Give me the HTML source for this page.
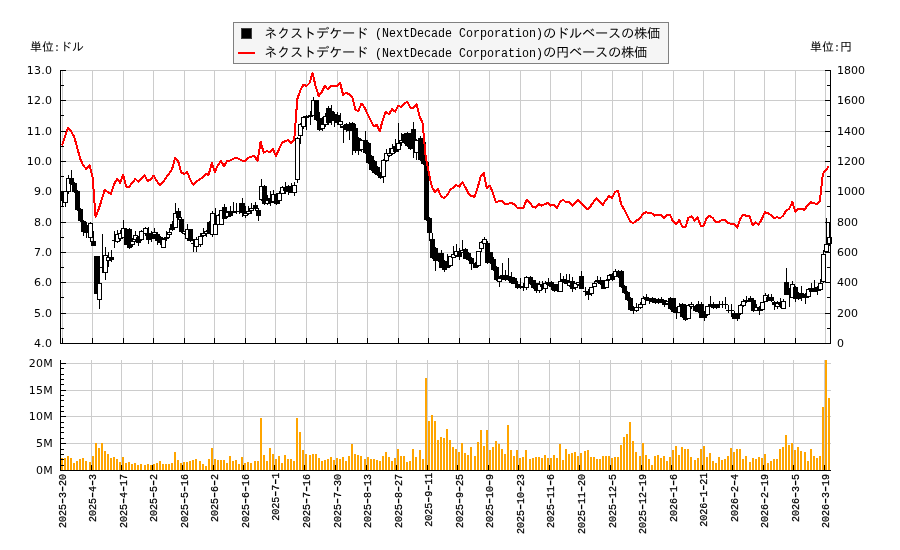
<!DOCTYPE html>
<html lang="ja"><head><meta charset="utf-8"><title>ネクストデケード (NextDecade Corporation)</title>
<style>html,body{margin:0;padding:0;background:#fff}body{width:900px;height:550px;overflow:hidden}svg{display:block}.jp{font-family:"Liberation Mono","IPAGothic",monospace}.tk{font-family:"DejaVu Sans","Liberation Sans",sans-serif;font-size:11px;fill:#000;letter-spacing:0.25px}</style></head><body>
<svg width="900" height="550" viewBox="0 0 900 550">
<rect x="0" y="0" width="900" height="550" fill="#fff"/>
<g shape-rendering="crispEdges">
<path d="M61 70.5H830M61 100.5H830M61 131.5H830M61 161.5H830M61 191.5H830M61 222.5H830M61 252.5H830M61 282.5H830M61 313.5H830M62.5 70V343M92.5 70V343M123.5 70V343M153.5 70V343M184.5 70V343M214.5 70V343M245.5 70V343M275.5 70V343M306.5 70V343M337.5 70V343M367.5 70V343M398.5 70V343M428.5 70V343M459.5 70V343M489.5 70V343M520.5 70V343M550.5 70V343M581.5 70V343M612.5 70V343M642.5 70V343M673.5 70V343M703.5 70V343M734.5 70V343M764.5 70V343M795.5 70V343M825.5 70V343" stroke="#cccccc" stroke-width="1" fill="none"/>
<path d="M61 443.5H831M61 416.5H831M61 390.5H831M61 363.5H831M91.5 360V470M121.5 360V470M152.5 360V470M182.5 360V470M213.5 360V470M243.5 360V470M274.5 360V470M304.5 360V470M335.5 360V470M366.5 360V470M396.5 360V470M427.5 360V470M457.5 360V470M488.5 360V470M518.5 360V470M549.5 360V470M579.5 360V470M610.5 360V470M641.5 360V470M671.5 360V470M702.5 360V470M732.5 360V470M763.5 360V470M793.5 360V470M824.5 360V470" stroke="#cccccc" stroke-width="1" fill="none"/>
</g>
<g fill="#ffa500" shape-rendering="crispEdges">
<path d="M61 458h2V470h-2zM64 458h2V470h-2zM67 456h2V470h-2zM70 458h2V470h-2zM73 463h2V470h-2zM76 461h2V470h-2zM79 459h2V470h-2zM82 458h2V470h-2zM85 461h2V470h-2zM89 462h2V470h-2zM92 456h2V470h-2zM95 443h2V470h-2zM98 448h2V470h-2zM101 443h2V470h-2zM104 451h2V470h-2zM107 454h2V470h-2zM110 458h2V470h-2zM113 457h2V470h-2zM116 459h2V470h-2zM119 462h2V470h-2zM122 457h2V470h-2zM125 463h2V470h-2zM128 462h2V470h-2zM131 464h2V470h-2zM134 463h2V470h-2zM137 465h2V470h-2zM140 464h2V470h-2zM144 465h2V470h-2zM147 464h2V470h-2zM150 465h2V470h-2zM153 464h2V470h-2zM156 463h2V470h-2zM159 461h2V470h-2zM162 464h2V470h-2zM165 464h2V470h-2zM168 464h2V470h-2zM171 463h2V470h-2zM174 452h2V470h-2zM177 460h2V470h-2zM180 463h2V470h-2zM183 462h2V470h-2zM186 462h2V470h-2zM189 461h2V470h-2zM192 460h2V470h-2zM195 459h2V470h-2zM199 461h2V470h-2zM202 464h2V470h-2zM205 466h2V470h-2zM208 459h2V470h-2zM211 448h2V470h-2zM214 459h2V470h-2zM217 460h2V470h-2zM220 460h2V470h-2zM223 460h2V470h-2zM226 463h2V470h-2zM229 456h2V470h-2zM232 461h2V470h-2zM235 460h2V470h-2zM238 464h2V470h-2zM241 457h2V470h-2zM244 463h2V470h-2zM247 462h2V470h-2zM250 463h2V470h-2zM254 461h2V470h-2zM257 461h2V470h-2zM260 418h2V470h-2zM263 455h2V470h-2zM266 461h2V470h-2zM269 448h2V470h-2zM272 454h2V470h-2zM275 459h2V470h-2zM278 456h2V470h-2zM281 463h2V470h-2zM284 455h2V470h-2zM287 459h2V470h-2zM290 459h2V470h-2zM293 461h2V470h-2zM296 418h2V470h-2zM299 432h2V470h-2zM302 450h2V470h-2zM305 454h2V470h-2zM309 455h2V470h-2zM312 454h2V470h-2zM315 454h2V470h-2zM318 458h2V470h-2zM321 461h2V470h-2zM324 460h2V470h-2zM327 459h2V470h-2zM330 457h2V470h-2zM333 460h2V470h-2zM336 458h2V470h-2zM339 459h2V470h-2zM342 457h2V470h-2zM345 461h2V470h-2zM348 456h2V470h-2zM351 444h2V470h-2zM354 454h2V470h-2zM357 455h2V470h-2zM360 456h2V470h-2zM364 459h2V470h-2zM367 457h2V470h-2zM370 459h2V470h-2zM373 459h2V470h-2zM376 460h2V470h-2zM379 461h2V470h-2zM382 456h2V470h-2zM385 452h2V470h-2zM388 457h2V470h-2zM391 461h2V470h-2zM394 458h2V470h-2zM397 449h2V470h-2zM400 456h2V470h-2zM403 456h2V470h-2zM406 462h2V470h-2zM409 461h2V470h-2zM412 449h2V470h-2zM415 457h2V470h-2zM419 450h2V470h-2zM422 459h2V470h-2zM425 378h2V470h-2zM428 421h2V470h-2zM431 415h2V470h-2zM434 421h2V470h-2zM437 440h2V470h-2zM440 437h2V470h-2zM443 438h2V470h-2zM446 429h2V470h-2zM449 440h2V470h-2zM452 447h2V470h-2zM455 449h2V470h-2zM458 452h2V470h-2zM461 443h2V470h-2zM464 453h2V470h-2zM467 455h2V470h-2zM470 447h2V470h-2zM474 456h2V470h-2zM477 442h2V470h-2zM480 430h2V470h-2zM483 446h2V470h-2zM486 430h2V470h-2zM489 450h2V470h-2zM492 447h2V470h-2zM495 441h2V470h-2zM498 444h2V470h-2zM501 449h2V470h-2zM504 454h2V470h-2zM507 425h2V470h-2zM510 450h2V470h-2zM513 456h2V470h-2zM516 450h2V470h-2zM519 458h2V470h-2zM522 457h2V470h-2zM525 450h2V470h-2zM529 459h2V470h-2zM532 458h2V470h-2zM535 457h2V470h-2zM538 457h2V470h-2zM541 458h2V470h-2zM544 455h2V470h-2zM547 458h2V470h-2zM550 458h2V470h-2zM553 455h2V470h-2zM556 458h2V470h-2zM559 444h2V470h-2zM562 460h2V470h-2zM565 449h2V470h-2zM568 454h2V470h-2zM571 453h2V470h-2zM574 452h2V470h-2zM577 456h2V470h-2zM580 453h2V470h-2zM584 451h2V470h-2zM587 450h2V470h-2zM590 457h2V470h-2zM593 457h2V470h-2zM596 459h2V470h-2zM599 459h2V470h-2zM602 456h2V470h-2zM605 456h2V470h-2zM608 456h2V470h-2zM611 458h2V470h-2zM614 457h2V470h-2zM617 457h2V470h-2zM620 445h2V470h-2zM623 437h2V470h-2zM626 434h2V470h-2zM629 422h2V470h-2zM632 441h2V470h-2zM635 452h2V470h-2zM639 456h2V470h-2zM642 443h2V470h-2zM645 455h2V470h-2zM648 459h2V470h-2zM651 465h2V470h-2zM654 456h2V470h-2zM657 455h2V470h-2zM660 458h2V470h-2zM663 456h2V470h-2zM666 461h2V470h-2zM669 457h2V470h-2zM672 450h2V470h-2zM675 446h2V470h-2zM678 455h2V470h-2zM681 447h2V470h-2zM684 449h2V470h-2zM687 449h2V470h-2zM690 457h2V470h-2zM694 460h2V470h-2zM697 458h2V470h-2zM700 449h2V470h-2zM703 446h2V470h-2zM706 457h2V470h-2zM709 453h2V470h-2zM712 461h2V470h-2zM715 463h2V470h-2zM718 457h2V470h-2zM721 460h2V470h-2zM724 459h2V470h-2zM727 456h2V470h-2zM730 448h2V470h-2zM733 452h2V470h-2zM736 449h2V470h-2zM739 449h2V470h-2zM742 459h2V470h-2zM745 456h2V470h-2zM749 462h2V470h-2zM752 458h2V470h-2zM755 459h2V470h-2zM758 457h2V470h-2zM761 458h2V470h-2zM764 454h2V470h-2zM767 463h2V470h-2zM770 461h2V470h-2zM773 459h2V470h-2zM776 459h2V470h-2zM779 449h2V470h-2zM782 447h2V470h-2zM785 435h2V470h-2zM788 445h2V470h-2zM791 443h2V470h-2zM794 450h2V470h-2zM797 447h2V470h-2zM800 451h2V470h-2zM804 452h2V470h-2zM807 461h2V470h-2zM810 449h2V470h-2zM813 456h2V470h-2zM816 458h2V470h-2zM819 456h2V470h-2zM822 407h2V470h-2zM825 360h2V470h-2zM828 398h2V470h-2z"/>
</g>
<g shape-rendering="crispEdges" stroke="#000" stroke-width="1">
<path d="M62.5 191V207"/><rect x="60.5" y="191.5" width="4" height="9" fill="#000"/>
<path d="M65.5 191V207"/><rect x="63.5" y="191.5" width="4" height="11" fill="#fff"/>
<path d="M68.5 175V194"/><rect x="66.5" y="178.5" width="4" height="13" fill="#fff"/>
<path d="M71.5 170V185"/><rect x="69.5" y="178.5" width="4" height="5" fill="#000"/>
<path d="M74.5 182V193"/><rect x="72.5" y="183.5" width="4" height="8" fill="#000"/>
<path d="M77.5 190V211"/><rect x="75.5" y="191.5" width="4" height="18" fill="#000"/>
<path d="M80.5 208V222"/><rect x="78.5" y="209.5" width="4" height="11" fill="#000"/>
<path d="M83.5 220V236"/><rect x="81.5" y="221.5" width="4" height="10" fill="#000"/>
<path d="M86.5 222V238"/><rect x="84.5" y="225.5" width="4" height="7" fill="#000"/>
<path d="M90.5 222V242"/><rect x="88.5" y="223.5" width="4" height="14" fill="#fff"/>
<path d="M93.5 231V246"/><rect x="91.5" y="241.5" width="4" height="4" fill="#000"/>
<rect x="94.5" y="256.5" width="4" height="37" fill="#000"/>
<path d="M99.5 256V309"/><rect x="97.5" y="283.5" width="4" height="16" fill="#fff"/>
<path d="M102.5 234V273"/><path d="M100 267.5h5"/>
<path d="M105.5 247V280"/><rect x="103.5" y="255.5" width="4" height="17" fill="#fff"/>
<path d="M108.5 252V267"/><rect x="106.5" y="257.5" width="4" height="3" fill="#fff"/>
<path d="M111.5 250V262"/><rect x="109.5" y="257.5" width="4" height="2" fill="#000"/>
<path d="M114.5 231V248"/><path d="M112 240.5h5"/>
<path d="M117.5 230V243"/><rect x="115.5" y="234.5" width="4" height="7" fill="#fff"/>
<path d="M120.5 230V241"/><rect x="118.5" y="233.5" width="4" height="5" fill="#fff"/>
<path d="M123.5 220V238"/><rect x="121.5" y="228.5" width="4" height="9" fill="#fff"/>
<path d="M126.5 228V245"/><rect x="124.5" y="229.5" width="4" height="15" fill="#000"/>
<path d="M129.5 228V249"/><rect x="127.5" y="229.5" width="4" height="18" fill="#000"/>
<path d="M132.5 238V247"/><rect x="130.5" y="241.5" width="4" height="3" fill="#fff"/>
<path d="M135.5 231V242"/><rect x="133.5" y="235.5" width="4" height="4" fill="#fff"/>
<path d="M138.5 236V246"/><rect x="136.5" y="237.5" width="4" height="5" fill="#000"/>
<path d="M141.5 230V241"/><rect x="139.5" y="231.5" width="4" height="8" fill="#fff"/>
<path d="M145.5 227V236"/><rect x="143.5" y="228.5" width="4" height="5" fill="#fff"/>
<path d="M148.5 227V244"/><rect x="146.5" y="233.5" width="4" height="6" fill="#000"/>
<path d="M151.5 231V242"/><rect x="149.5" y="233.5" width="4" height="5" fill="#000"/>
<path d="M154.5 228V239"/><rect x="152.5" y="232.5" width="4" height="2" fill="#fff"/>
<path d="M157.5 232V245"/><rect x="155.5" y="234.5" width="4" height="6" fill="#000"/>
<path d="M160.5 236V245"/><rect x="158.5" y="237.5" width="4" height="5" fill="#000"/>
<path d="M163.5 238V248"/><rect x="161.5" y="239.5" width="4" height="8" fill="#fff"/>
<path d="M166.5 231V241"/><rect x="164.5" y="237.5" width="4" height="1" fill="#fff"/>
<path d="M169.5 228V238"/><rect x="167.5" y="232.5" width="4" height="2" fill="#fff"/>
<path d="M172.5 221V231"/><rect x="170.5" y="224.5" width="4" height="5" fill="#000"/>
<path d="M175.5 203V228"/><rect x="173.5" y="213.5" width="4" height="14" fill="#fff"/>
<path d="M178.5 208V220"/><rect x="176.5" y="211.5" width="4" height="6" fill="#000"/>
<path d="M181.5 217V233"/><rect x="179.5" y="219.5" width="4" height="12" fill="#000"/>
<path d="M184.5 231V235"/><rect x="182.5" y="231.5" width="4" height="2" fill="#fff"/>
<path d="M187.5 224V241"/><rect x="185.5" y="229.5" width="4" height="9" fill="#fff"/>
<path d="M190.5 229V242"/><rect x="188.5" y="229.5" width="4" height="11" fill="#000"/>
<path d="M193.5 239V252"/><path d="M191 243.5h5"/>
<path d="M196.5 237V252"/><rect x="194.5" y="239.5" width="4" height="7" fill="#fff"/>
<path d="M200.5 233V247"/><rect x="198.5" y="236.5" width="4" height="8" fill="#fff"/>
<path d="M203.5 228V237"/><rect x="201.5" y="233.5" width="4" height="2" fill="#fff"/>
<path d="M206.5 230V237"/><rect x="204.5" y="231.5" width="4" height="2" fill="#fff"/>
<path d="M209.5 221V234"/><rect x="207.5" y="222.5" width="4" height="11" fill="#000"/>
<path d="M212.5 211V237"/><rect x="210.5" y="213.5" width="4" height="21" fill="#fff"/>
<path d="M215.5 208V235"/><rect x="213.5" y="224.5" width="4" height="10" fill="#fff"/>
<path d="M218.5 214V225"/><rect x="216.5" y="215.5" width="4" height="9" fill="#fff"/>
<rect x="219.5" y="210.5" width="4" height="14" fill="#fff"/>
<path d="M224.5 204V219"/><rect x="222.5" y="207.5" width="4" height="11" fill="#000"/>
<path d="M227.5 211V218"/><rect x="225.5" y="212.5" width="4" height="4" fill="#fff"/>
<path d="M230.5 206V217"/><rect x="228.5" y="211.5" width="4" height="4" fill="#000"/>
<path d="M233.5 202V213"/><rect x="231.5" y="211.5" width="4" height="1" fill="#fff"/>
<path d="M236.5 203V214"/><path d="M234 211.5h5"/>
<path d="M239.5 203V214"/><path d="M237 211.5h5"/>
<path d="M242.5 198V217"/><rect x="240.5" y="203.5" width="4" height="9" fill="#000"/>
<path d="M245.5 206V218"/><rect x="243.5" y="213.5" width="4" height="2" fill="#fff"/>
<path d="M248.5 206V215"/><rect x="246.5" y="211.5" width="4" height="2" fill="#fff"/>
<path d="M251.5 203V214"/><rect x="249.5" y="208.5" width="4" height="2" fill="#fff"/>
<path d="M255.5 202V211"/><rect x="253.5" y="205.5" width="4" height="3" fill="#000"/>
<path d="M258.5 208V221"/><rect x="256.5" y="210.5" width="4" height="5" fill="#000"/>
<path d="M261.5 179V201"/><rect x="259.5" y="186.5" width="4" height="13" fill="#fff"/>
<path d="M264.5 185V205"/><rect x="262.5" y="186.5" width="4" height="17" fill="#000"/>
<path d="M267.5 195V205"/><rect x="265.5" y="200.5" width="4" height="3" fill="#fff"/>
<path d="M270.5 191V206"/><rect x="268.5" y="198.5" width="4" height="4" fill="#000"/>
<path d="M273.5 190V203"/><rect x="271.5" y="194.5" width="4" height="7" fill="#fff"/>
<path d="M276.5 193V205"/><rect x="274.5" y="194.5" width="4" height="9" fill="#000"/>
<path d="M279.5 191V204"/><rect x="277.5" y="193.5" width="4" height="7" fill="#fff"/>
<path d="M282.5 186V194"/><rect x="280.5" y="187.5" width="4" height="6" fill="#fff"/>
<path d="M285.5 182V194"/><rect x="283.5" y="187.5" width="4" height="3" fill="#000"/>
<path d="M288.5 185V195"/><rect x="286.5" y="186.5" width="4" height="5" fill="#000"/>
<path d="M291.5 183V193"/><rect x="289.5" y="186.5" width="4" height="6" fill="#000"/>
<path d="M294.5 182V196"/><rect x="292.5" y="185.5" width="4" height="7" fill="#fff"/>
<path d="M297.5 137V183"/><rect x="295.5" y="138.5" width="4" height="41" fill="#fff"/>
<path d="M300.5 123V144"/><rect x="298.5" y="124.5" width="4" height="11" fill="#fff"/>
<path d="M303.5 116V129"/><rect x="301.5" y="117.5" width="4" height="9" fill="#fff"/>
<path d="M306.5 115V130"/><rect x="304.5" y="116.5" width="4" height="1" fill="#000"/>
<path d="M310.5 111V125"/><rect x="308.5" y="115.5" width="4" height="1" fill="#fff"/>
<path d="M313.5 97V116"/><rect x="311.5" y="100.5" width="4" height="15" fill="#fff"/>
<path d="M316.5 100V121"/><rect x="314.5" y="100.5" width="4" height="19" fill="#000"/>
<path d="M319.5 112V131"/><rect x="317.5" y="118.5" width="4" height="11" fill="#000"/>
<path d="M322.5 117V131"/><rect x="320.5" y="124.5" width="4" height="4" fill="#fff"/>
<path d="M325.5 113V127"/><rect x="323.5" y="116.5" width="4" height="8" fill="#fff"/>
<path d="M328.5 106V125"/><rect x="326.5" y="108.5" width="4" height="14" fill="#000"/>
<path d="M331.5 105V125"/><rect x="329.5" y="111.5" width="4" height="9" fill="#000"/>
<path d="M334.5 112V127"/><rect x="332.5" y="114.5" width="4" height="6" fill="#000"/>
<path d="M337.5 112V125"/><rect x="335.5" y="115.5" width="4" height="7" fill="#000"/>
<path d="M340.5 113V128"/><rect x="338.5" y="121.5" width="4" height="3" fill="#fff"/>
<path d="M343.5 125V143"/><rect x="341.5" y="126.5" width="4" height="1" fill="#fff"/>
<path d="M346.5 123V132"/><rect x="344.5" y="124.5" width="4" height="5" fill="#000"/>
<path d="M349.5 122V140"/><rect x="347.5" y="124.5" width="4" height="6" fill="#000"/>
<path d="M352.5 122V155"/><rect x="350.5" y="123.5" width="4" height="7" fill="#000"/>
<path d="M355.5 124V153"/><rect x="353.5" y="128.5" width="4" height="22" fill="#000"/>
<path d="M358.5 137V155"/><rect x="356.5" y="138.5" width="4" height="12" fill="#000"/>
<path d="M361.5 139V152"/><rect x="359.5" y="140.5" width="4" height="9" fill="#fff"/>
<path d="M365.5 131V154"/><rect x="363.5" y="140.5" width="4" height="12" fill="#000"/>
<path d="M368.5 142V164"/><rect x="366.5" y="143.5" width="4" height="19" fill="#000"/>
<path d="M371.5 155V171"/><rect x="369.5" y="156.5" width="4" height="13" fill="#000"/>
<path d="M374.5 160V174"/><rect x="372.5" y="161.5" width="4" height="11" fill="#000"/>
<path d="M377.5 166V176"/><rect x="375.5" y="167.5" width="4" height="7" fill="#000"/>
<path d="M380.5 172V179"/><rect x="378.5" y="173.5" width="4" height="4" fill="#000"/>
<path d="M383.5 159V183"/><rect x="381.5" y="160.5" width="4" height="16" fill="#fff"/>
<path d="M386.5 149V162"/><rect x="384.5" y="153.5" width="4" height="7" fill="#fff"/>
<path d="M389.5 148V157"/><rect x="387.5" y="153.5" width="4" height="2" fill="#fff"/>
<path d="M392.5 144V155"/><rect x="390.5" y="148.5" width="4" height="5" fill="#fff"/>
<path d="M395.5 139V153"/><rect x="393.5" y="146.5" width="4" height="5" fill="#000"/>
<path d="M398.5 123V152"/><rect x="396.5" y="143.5" width="4" height="6" fill="#fff"/>
<path d="M401.5 133V146"/><rect x="399.5" y="140.5" width="4" height="2" fill="#fff"/>
<path d="M404.5 133V144"/><rect x="402.5" y="134.5" width="4" height="8" fill="#000"/>
<path d="M407.5 132V147"/><rect x="405.5" y="133.5" width="4" height="12" fill="#000"/>
<path d="M410.5 133V150"/><rect x="408.5" y="134.5" width="4" height="14" fill="#000"/>
<path d="M413.5 122V158"/><rect x="411.5" y="129.5" width="4" height="18" fill="#000"/>
<path d="M416.5 139V160"/><rect x="414.5" y="140.5" width="4" height="12" fill="#fff"/>
<path d="M420.5 136V161"/><rect x="418.5" y="138.5" width="4" height="21" fill="#000"/>
<path d="M423.5 141V165"/><rect x="421.5" y="142.5" width="4" height="21" fill="#000"/>
<path d="M426.5 160V221"/><rect x="424.5" y="162.5" width="4" height="57" fill="#000"/>
<path d="M429.5 217V241"/><rect x="427.5" y="218.5" width="4" height="14" fill="#000"/>
<path d="M432.5 233V259"/><rect x="430.5" y="239.5" width="4" height="18" fill="#000"/>
<path d="M435.5 247V271"/><rect x="433.5" y="248.5" width="4" height="12" fill="#000"/>
<path d="M438.5 253V262"/><rect x="436.5" y="254.5" width="4" height="6" fill="#000"/>
<path d="M441.5 250V268"/><rect x="439.5" y="253.5" width="4" height="14" fill="#000"/>
<path d="M444.5 260V272"/><rect x="442.5" y="261.5" width="4" height="8" fill="#000"/>
<path d="M447.5 254V268"/><rect x="445.5" y="261.5" width="4" height="6" fill="#000"/>
<path d="M450.5 256V267"/><rect x="448.5" y="256.5" width="4" height="9" fill="#fff"/>
<path d="M453.5 246V258"/><rect x="451.5" y="254.5" width="4" height="3" fill="#fff"/>
<path d="M456.5 244V257"/><rect x="454.5" y="251.5" width="4" height="4" fill="#fff"/>
<path d="M459.5 248V260"/><rect x="457.5" y="251.5" width="4" height="5" fill="#000"/>
<path d="M462.5 240V253"/><rect x="460.5" y="250.5" width="4" height="2" fill="#fff"/>
<path d="M465.5 248V259"/><rect x="463.5" y="249.5" width="4" height="9" fill="#000"/>
<path d="M468.5 252V261"/><rect x="466.5" y="253.5" width="4" height="6" fill="#000"/>
<path d="M471.5 257V270"/><rect x="469.5" y="258.5" width="4" height="5" fill="#000"/>
<path d="M475.5 262V268"/><rect x="473.5" y="263.5" width="4" height="4" fill="#000"/>
<path d="M478.5 251V267"/><rect x="476.5" y="251.5" width="4" height="14" fill="#fff"/>
<path d="M481.5 241V252"/><rect x="479.5" y="242.5" width="4" height="6" fill="#fff"/>
<path d="M484.5 237V244"/><rect x="482.5" y="239.5" width="4" height="4" fill="#fff"/>
<path d="M487.5 241V264"/><rect x="485.5" y="243.5" width="4" height="19" fill="#000"/>
<path d="M490.5 252V264"/><rect x="488.5" y="252.5" width="4" height="9" fill="#000"/>
<path d="M493.5 257V271"/><rect x="491.5" y="259.5" width="4" height="10" fill="#000"/>
<path d="M496.5 266V281"/><rect x="494.5" y="267.5" width="4" height="12" fill="#000"/>
<path d="M499.5 276V287"/><rect x="497.5" y="278.5" width="4" height="3" fill="#fff"/>
<path d="M502.5 263V280"/><rect x="500.5" y="275.5" width="4" height="3" fill="#000"/>
<path d="M505.5 270V281"/><rect x="503.5" y="275.5" width="4" height="4" fill="#000"/>
<path d="M508.5 258V281"/><rect x="506.5" y="276.5" width="4" height="3" fill="#000"/>
<path d="M511.5 272V284"/><rect x="509.5" y="277.5" width="4" height="5" fill="#000"/>
<path d="M514.5 277V284"/><rect x="512.5" y="278.5" width="4" height="5" fill="#000"/>
<path d="M517.5 281V289"/><rect x="515.5" y="284.5" width="4" height="3" fill="#000"/>
<path d="M520.5 278V289"/><path d="M518 286.5h5"/>
<path d="M523.5 283V291"/><rect x="521.5" y="286.5" width="4" height="1" fill="#000"/>
<path d="M526.5 276V290"/><rect x="524.5" y="277.5" width="4" height="10" fill="#fff"/>
<path d="M530.5 276V285"/><rect x="528.5" y="277.5" width="4" height="6" fill="#000"/>
<path d="M533.5 280V289"/><rect x="531.5" y="280.5" width="4" height="7" fill="#000"/>
<path d="M536.5 283V293"/><rect x="534.5" y="283.5" width="4" height="7" fill="#000"/>
<path d="M539.5 281V293"/><rect x="537.5" y="284.5" width="4" height="6" fill="#fff"/>
<path d="M542.5 281V290"/><rect x="540.5" y="284.5" width="4" height="2" fill="#000"/>
<path d="M545.5 281V293"/><rect x="543.5" y="283.5" width="4" height="5" fill="#fff"/>
<path d="M548.5 278V286"/><rect x="546.5" y="282.5" width="4" height="2" fill="#000"/>
<path d="M551.5 281V290"/><rect x="549.5" y="282.5" width="4" height="4" fill="#000"/>
<path d="M554.5 284V292"/><rect x="552.5" y="284.5" width="4" height="6" fill="#000"/>
<path d="M557.5 284V292"/><rect x="555.5" y="285.5" width="4" height="5" fill="#000"/>
<path d="M560.5 273V292"/><rect x="558.5" y="281.5" width="4" height="10" fill="#fff"/>
<path d="M563.5 276V283"/><rect x="561.5" y="279.5" width="4" height="2" fill="#000"/>
<path d="M566.5 274V284"/><rect x="564.5" y="280.5" width="4" height="3" fill="#000"/>
<path d="M569.5 274V287"/><rect x="567.5" y="282.5" width="4" height="3" fill="#fff"/>
<path d="M572.5 277V292"/><rect x="570.5" y="281.5" width="4" height="7" fill="#000"/>
<path d="M575.5 283V290"/><rect x="573.5" y="283.5" width="4" height="4" fill="#fff"/>
<path d="M578.5 282V286"/><rect x="576.5" y="282.5" width="4" height="2" fill="#fff"/>
<path d="M581.5 271V289"/><rect x="579.5" y="276.5" width="4" height="12" fill="#000"/>
<path d="M585.5 287V296"/><path d="M583 291.5h5"/>
<path d="M588.5 289V300"/><rect x="586.5" y="291.5" width="4" height="3" fill="#000"/>
<path d="M591.5 287V296"/><rect x="589.5" y="287.5" width="4" height="6" fill="#fff"/>
<path d="M594.5 281V287"/><rect x="592.5" y="283.5" width="4" height="3" fill="#fff"/>
<path d="M597.5 276V283"/><rect x="595.5" y="280.5" width="4" height="1" fill="#fff"/>
<path d="M600.5 277V285"/><rect x="598.5" y="280.5" width="4" height="3" fill="#000"/>
<rect x="601.5" y="280.5" width="4" height="8" fill="#000"/>
<path d="M606.5 279V288"/><rect x="604.5" y="280.5" width="4" height="7" fill="#fff"/>
<path d="M609.5 274V281"/><rect x="607.5" y="275.5" width="4" height="4" fill="#fff"/>
<path d="M612.5 273V281"/><rect x="610.5" y="274.5" width="4" height="5" fill="#000"/>
<path d="M615.5 269V277"/><rect x="613.5" y="271.5" width="4" height="5" fill="#fff"/>
<path d="M618.5 270V278"/><rect x="616.5" y="271.5" width="4" height="5" fill="#000"/>
<path d="M621.5 270V288"/><rect x="619.5" y="271.5" width="4" height="15" fill="#000"/>
<path d="M624.5 285V294"/><rect x="622.5" y="286.5" width="4" height="6" fill="#000"/>
<path d="M627.5 291V301"/><rect x="625.5" y="292.5" width="4" height="7" fill="#000"/>
<path d="M630.5 297V311"/><rect x="628.5" y="298.5" width="4" height="11" fill="#000"/>
<path d="M633.5 306V314"/><rect x="631.5" y="307.5" width="4" height="3" fill="#000"/>
<path d="M636.5 303V312"/><rect x="634.5" y="307.5" width="4" height="3" fill="#fff"/>
<path d="M640.5 302V309"/><rect x="638.5" y="304.5" width="4" height="3" fill="#fff"/>
<path d="M643.5 296V305"/><rect x="641.5" y="298.5" width="4" height="6" fill="#fff"/>
<path d="M646.5 294V301"/><rect x="644.5" y="297.5" width="4" height="2" fill="#000"/>
<path d="M649.5 298V304"/><path d="M647 300.5h5"/>
<path d="M652.5 297V303"/><rect x="650.5" y="298.5" width="4" height="3" fill="#000"/>
<path d="M655.5 298V304"/><rect x="653.5" y="299.5" width="4" height="3" fill="#000"/>
<path d="M658.5 298V304"/><rect x="656.5" y="301.5" width="4" height="1" fill="#fff"/>
<path d="M661.5 297V303"/><rect x="659.5" y="299.5" width="4" height="2" fill="#000"/>
<path d="M664.5 300V307"/><rect x="662.5" y="300.5" width="4" height="4" fill="#000"/>
<path d="M667.5 301V305"/><rect x="665.5" y="301.5" width="4" height="2" fill="#fff"/>
<path d="M670.5 297V310"/><rect x="668.5" y="298.5" width="4" height="10" fill="#000"/>
<path d="M673.5 298V313"/><rect x="671.5" y="298.5" width="4" height="13" fill="#000"/>
<path d="M676.5 307V319"/><rect x="674.5" y="307.5" width="4" height="5" fill="#000"/>
<path d="M679.5 303V313"/><rect x="677.5" y="306.5" width="4" height="6" fill="#fff"/>
<path d="M682.5 303V318"/><rect x="680.5" y="304.5" width="4" height="12" fill="#000"/>
<path d="M685.5 304V321"/><rect x="683.5" y="305.5" width="4" height="14" fill="#000"/>
<path d="M688.5 304V319"/><rect x="686.5" y="305.5" width="4" height="13" fill="#fff"/>
<path d="M691.5 302V309"/><rect x="689.5" y="304.5" width="4" height="2" fill="#fff"/>
<path d="M695.5 305V312"/><rect x="693.5" y="306.5" width="4" height="4" fill="#000"/>
<path d="M698.5 301V313"/><rect x="696.5" y="304.5" width="4" height="7" fill="#000"/>
<path d="M701.5 302V318"/><rect x="699.5" y="304.5" width="4" height="13" fill="#000"/>
<path d="M704.5 311V321"/><rect x="702.5" y="311.5" width="4" height="6" fill="#000"/>
<path d="M707.5 306V316"/><rect x="705.5" y="306.5" width="4" height="8" fill="#fff"/>
<path d="M710.5 296V307"/><rect x="708.5" y="304.5" width="4" height="1" fill="#fff"/>
<path d="M713.5 302V309"/><rect x="711.5" y="304.5" width="4" height="3" fill="#000"/>
<path d="M716.5 304V309"/><rect x="714.5" y="305.5" width="4" height="2" fill="#000"/>
<path d="M719.5 301V308"/><path d="M717 304.5h5"/>
<path d="M722.5 301V308"/><path d="M720 304.5h5"/>
<path d="M725.5 297V309"/><path d="M723 304.5h5"/>
<path d="M728.5 305V313"/><path d="M726 310.5h5"/>
<path d="M731.5 304V317"/><path d="M729 310.5h5"/>
<path d="M734.5 311V319"/><rect x="732.5" y="313.5" width="4" height="5" fill="#000"/>
<path d="M737.5 313V321"/><rect x="735.5" y="314.5" width="4" height="4" fill="#000"/>
<path d="M740.5 304V315"/><rect x="738.5" y="305.5" width="4" height="8" fill="#fff"/>
<path d="M743.5 299V307"/><rect x="741.5" y="301.5" width="4" height="4" fill="#fff"/>
<path d="M746.5 296V303"/><rect x="744.5" y="300.5" width="4" height="1" fill="#fff"/>
<path d="M750.5 296V302"/><rect x="748.5" y="298.5" width="4" height="3" fill="#000"/>
<path d="M753.5 298V312"/><rect x="751.5" y="300.5" width="4" height="10" fill="#000"/>
<path d="M756.5 304V311"/><rect x="754.5" y="307.5" width="4" height="3" fill="#fff"/>
<path d="M759.5 306V315"/><rect x="757.5" y="307.5" width="4" height="3" fill="#000"/>
<path d="M762.5 302V311"/><rect x="760.5" y="302.5" width="4" height="7" fill="#fff"/>
<path d="M765.5 293V302"/><rect x="763.5" y="295.5" width="4" height="6" fill="#fff"/>
<path d="M768.5 294V301"/><rect x="766.5" y="297.5" width="4" height="3" fill="#000"/>
<path d="M771.5 294V302"/><rect x="769.5" y="297.5" width="4" height="3" fill="#000"/>
<path d="M774.5 301V310"/><rect x="772.5" y="302.5" width="4" height="2" fill="#000"/>
<path d="M777.5 301V309"/><rect x="775.5" y="303.5" width="4" height="3" fill="#fff"/>
<path d="M780.5 298V308"/><rect x="778.5" y="302.5" width="4" height="2" fill="#000"/>
<path d="M783.5 299V309"/><rect x="781.5" y="301.5" width="4" height="7" fill="#fff"/>
<path d="M786.5 268V295"/><rect x="784.5" y="282.5" width="4" height="12" fill="#000"/>
<path d="M789.5 288V307"/><rect x="787.5" y="290.5" width="4" height="4" fill="#000"/>
<path d="M792.5 281V298"/><rect x="790.5" y="284.5" width="4" height="13" fill="#fff"/>
<path d="M795.5 286V302"/><rect x="793.5" y="287.5" width="4" height="11" fill="#000"/>
<path d="M798.5 292V300"/><rect x="796.5" y="293.5" width="4" height="5" fill="#000"/>
<path d="M801.5 286V301"/><rect x="799.5" y="293.5" width="4" height="4" fill="#000"/>
<path d="M805.5 293V304"/><rect x="803.5" y="294.5" width="4" height="3" fill="#000"/>
<path d="M808.5 288V298"/><rect x="806.5" y="289.5" width="4" height="7" fill="#fff"/>
<path d="M811.5 283V292"/><rect x="809.5" y="288.5" width="4" height="3" fill="#000"/>
<path d="M814.5 280V292"/><rect x="812.5" y="288.5" width="4" height="3" fill="#000"/>
<path d="M817.5 286V295"/><rect x="815.5" y="287.5" width="4" height="3" fill="#000"/>
<path d="M820.5 279V291"/><rect x="818.5" y="283.5" width="4" height="6" fill="#fff"/>
<path d="M823.5 250V283"/><rect x="821.5" y="254.5" width="4" height="27" fill="#fff"/>
<path d="M826.5 218V253"/><rect x="824.5" y="244.5" width="4" height="7" fill="#fff"/>
<path d="M829.5 223V246"/><rect x="827.5" y="237.5" width="4" height="6" fill="#fff"/>
</g>
<polyline points="62.0,145.6 65.1,136.1 68.1,127.8 71.2,131.7 74.2,136.7 77.3,148.3 80.4,159.4 83.4,165.6 86.5,169.2 89.5,165.0 92.6,177.0 95.6,217.0 98.7,209.0 101.8,199.4 104.8,189.7 107.9,192.2 110.9,194.1 114.0,184.4 117.0,178.9 120.1,182.8 123.1,175.0 126.2,186.7 129.2,186.7 132.3,182.8 135.4,178.9 138.4,181.9 141.5,178.3 144.5,175.3 147.6,181.1 150.6,179.4 153.7,175.6 156.8,181.1 159.8,185.0 162.9,182.2 165.9,177.8 169.0,173.9 172.0,169.4 175.1,157.6 178.1,161.1 181.2,172.2 184.2,173.9 187.3,172.2 190.4,180.0 193.4,185.0 196.5,181.7 199.5,179.4 202.6,177.8 205.6,174.2 208.7,174.7 211.8,162.8 214.8,172.2 217.9,165.0 220.9,161.1 224.0,166.1 227.0,161.3 230.1,160.6 233.1,158.9 236.2,157.8 239.2,158.9 242.3,160.8 245.4,160.8 248.4,157.8 251.5,156.7 254.5,155.9 257.6,161.1 260.6,141.7 263.7,152.8 266.8,151.1 269.8,152.2 272.9,148.9 275.9,156.1 279.0,149.4 282.0,142.8 285.1,141.1 288.1,140.0 291.2,143.0 294.2,140.0 297.3,99.1 300.4,90.2 303.4,84.7 306.5,86.0 309.5,83.0 312.6,73.0 315.6,86.3 318.7,96.0 321.8,91.9 324.8,86.1 327.9,89.4 330.9,86.1 334.0,85.8 337.0,85.8 340.1,83.0 343.1,94.7 346.2,92.8 349.2,94.4 352.3,96.9 355.4,110.0 358.4,110.9 361.5,103.6 364.5,107.2 367.6,114.4 370.6,120.0 373.7,126.1 376.8,125.0 379.8,131.1 382.9,119.4 385.9,111.7 389.0,114.4 392.0,109.1 395.1,111.7 398.1,106.1 401.2,106.9 404.2,103.9 407.3,101.7 410.4,107.8 413.4,107.6 416.5,104.4 419.5,116.1 422.6,123.0 425.6,156.0 428.7,172.0 431.8,186.7 434.8,191.9 437.9,188.9 440.9,196.1 444.0,198.1 447.0,195.6 450.1,190.0 453.1,187.8 456.2,185.0 459.2,186.7 462.3,182.2 465.4,187.2 468.4,193.3 471.5,196.1 474.5,196.7 477.6,187.8 480.6,176.7 483.7,172.8 486.8,188.3 489.8,185.6 492.9,192.8 495.9,202.2 499.0,201.1 502.0,201.1 505.1,203.9 508.1,203.9 511.2,202.8 514.2,204.4 517.3,207.8 520.4,208.0 523.4,207.8 526.5,200.0 529.5,202.2 532.6,206.7 535.6,207.8 538.7,204.2 541.8,205.6 544.8,204.2 547.9,202.8 550.9,205.6 554.0,205.0 557.0,207.8 560.1,201.7 563.1,199.8 566.2,202.4 569.2,201.7 572.3,205.6 575.4,202.2 578.4,200.0 581.5,203.3 584.5,206.1 587.6,209.4 590.6,206.1 593.7,201.7 596.8,198.3 599.8,201.7 602.9,204.8 605.9,200.0 609.0,196.1 612.0,197.8 615.1,191.7 618.1,191.1 621.2,204.4 624.2,209.4 627.3,215.6 630.4,221.7 633.4,223.0 636.5,220.6 639.5,218.9 642.6,214.4 645.6,212.2 648.7,212.8 651.8,213.3 654.8,215.6 657.9,215.0 660.9,214.8 664.0,217.8 667.0,215.0 670.1,214.8 673.1,221.7 676.2,223.9 679.2,220.0 682.3,226.7 685.4,227.4 688.4,217.8 691.5,216.1 694.5,220.6 697.6,217.2 700.6,225.6 703.7,225.6 706.8,217.8 709.8,215.6 712.9,218.3 715.9,221.7 719.0,221.9 722.0,220.0 725.1,220.0 728.1,222.8 731.2,223.9 734.2,223.9 737.3,227.8 740.4,218.3 743.4,214.8 746.5,215.9 749.5,215.9 752.6,225.0 755.6,222.2 758.7,224.8 761.8,218.9 764.8,212.2 767.9,213.3 770.9,215.0 774.0,218.3 777.0,217.2 780.1,218.3 783.1,215.6 786.2,210.6 789.2,208.9 792.3,202.0 795.4,211.7 798.4,208.9 801.5,208.9 804.5,209.8 807.6,205.0 810.6,202.2 813.7,203.3 816.8,203.9 819.8,201.1 822.9,173.9 825.9,170.0 829.0,166.1" fill="none" stroke="#ff0000" stroke-width="2" stroke-linejoin="round" stroke-linecap="butt" shape-rendering="crispEdges"/>
<g shape-rendering="crispEdges" stroke="#000" stroke-width="1" fill="none">
<path d="M60.5 70V344M830.5 70V344M60 343.5H831M60 70.5h6M831 70.5h-6M60 100.5h6M831 100.5h-6M60 131.5h6M831 131.5h-6M60 161.5h6M831 161.5h-6M60 191.5h6M831 191.5h-6M60 222.5h6M831 222.5h-6M60 252.5h6M831 252.5h-6M60 282.5h6M831 282.5h-6M60 313.5h6M831 313.5h-6M60 343.5h6M831 343.5h-6M60 85.5h4M831 85.5h-4M60 115.5h4M831 115.5h-4M60 146.5h4M831 146.5h-4M60 176.5h4M831 176.5h-4M60 206.5h4M831 206.5h-4M60 237.5h4M831 237.5h-4M60 267.5h4M831 267.5h-4M60 297.5h4M831 297.5h-4M60 328.5h4M831 328.5h-4M62.5 338V343M92.5 338V343M123.5 338V343M153.5 338V343M184.5 338V343M214.5 338V343M245.5 338V343M275.5 338V343M306.5 338V343M337.5 338V343M367.5 338V343M398.5 338V343M428.5 338V343M459.5 338V343M489.5 338V343M520.5 338V343M550.5 338V343M581.5 338V343M612.5 338V343M642.5 338V343M673.5 338V343M703.5 338V343M734.5 338V343M764.5 338V343M795.5 338V343M60.5 360V471M60 470.5H831M60 470.5h6M60 465.5h4M60 459.5h4M60 454.5h4M60 449.5h4M60 443.5h6M60 438.5h4M60 432.5h4M60 427.5h4M60 422.5h4M60 416.5h6M60 411.5h4M60 406.5h4M60 400.5h4M60 395.5h4M60 390.5h6M60 384.5h4M60 379.5h4M60 374.5h4M60 368.5h4M60 363.5h6M91.5 465V470M121.5 465V470M152.5 465V470M182.5 465V470M213.5 465V470M243.5 465V470M274.5 465V470M304.5 465V470M335.5 465V470M366.5 465V470M396.5 465V470M427.5 465V470M457.5 465V470M488.5 465V470M518.5 465V470M549.5 465V470M579.5 465V470M610.5 465V470M641.5 465V470M671.5 465V470M702.5 465V470M732.5 465V470M763.5 465V470M793.5 465V470M824.5 465V470"/>
</g>
<g class="tk">
<text x="52.2" y="73.7" text-anchor="end">13.0</text>
<text x="837" y="73.7" letter-spacing="0">1800</text>
<text x="52.2" y="103.7" text-anchor="end">12.0</text>
<text x="837" y="103.7" letter-spacing="0">1600</text>
<text x="52.2" y="134.7" text-anchor="end">11.0</text>
<text x="837" y="134.7" letter-spacing="0">1400</text>
<text x="52.2" y="164.7" text-anchor="end">10.0</text>
<text x="837" y="164.7" letter-spacing="0">1200</text>
<text x="52.2" y="194.7" text-anchor="end">9.0</text>
<text x="837" y="194.7" letter-spacing="0">1000</text>
<text x="52.2" y="225.7" text-anchor="end">8.0</text>
<text x="837" y="225.7" letter-spacing="0">800</text>
<text x="52.2" y="255.7" text-anchor="end">7.0</text>
<text x="837" y="255.7" letter-spacing="0">600</text>
<text x="52.2" y="285.7" text-anchor="end">6.0</text>
<text x="837" y="285.7" letter-spacing="0">400</text>
<text x="52.2" y="316.7" text-anchor="end">5.0</text>
<text x="837" y="316.7" letter-spacing="0">200</text>
<text x="52.2" y="346.7" text-anchor="end">4.0</text>
<text x="837" y="346.7" letter-spacing="0">0</text>
<text x="53.1" y="473.7" text-anchor="end">0M</text>
<text x="53.1" y="446.7" text-anchor="end">5M</text>
<text x="53.1" y="419.7" text-anchor="end">10M</text>
<text x="53.1" y="393.7" text-anchor="end">15M</text>
<text x="53.1" y="366.7" text-anchor="end">20M</text>
</g>
<g class="jp" font-size="11.8px" fill="#000" stroke="#000" stroke-width="0.25">
<text transform="translate(65.8,528.0) rotate(-90)"><tspan x="0" y="0" textLength="24" lengthAdjust="spacingAndGlyphs">2025</tspan><tspan x="21.9" y="1.3" font-size="17px" stroke="none">-</tspan><tspan x="30" y="0" textLength="6" lengthAdjust="spacingAndGlyphs">3</tspan><tspan x="33.9" y="1.3" font-size="17px" stroke="none">-</tspan><tspan x="42" y="0" textLength="12" lengthAdjust="spacingAndGlyphs">20</tspan></text>
<text transform="translate(95.8,522.0) rotate(-90)"><tspan x="0" y="0" textLength="24" lengthAdjust="spacingAndGlyphs">2025</tspan><tspan x="21.9" y="1.3" font-size="17px" stroke="none">-</tspan><tspan x="30" y="0" textLength="6" lengthAdjust="spacingAndGlyphs">4</tspan><tspan x="33.9" y="1.3" font-size="17px" stroke="none">-</tspan><tspan x="42" y="0" textLength="6" lengthAdjust="spacingAndGlyphs">3</tspan></text>
<text transform="translate(126.8,528.0) rotate(-90)"><tspan x="0" y="0" textLength="24" lengthAdjust="spacingAndGlyphs">2025</tspan><tspan x="21.9" y="1.3" font-size="17px" stroke="none">-</tspan><tspan x="30" y="0" textLength="6" lengthAdjust="spacingAndGlyphs">4</tspan><tspan x="33.9" y="1.3" font-size="17px" stroke="none">-</tspan><tspan x="42" y="0" textLength="12" lengthAdjust="spacingAndGlyphs">17</tspan></text>
<text transform="translate(156.8,522.0) rotate(-90)"><tspan x="0" y="0" textLength="24" lengthAdjust="spacingAndGlyphs">2025</tspan><tspan x="21.9" y="1.3" font-size="17px" stroke="none">-</tspan><tspan x="30" y="0" textLength="6" lengthAdjust="spacingAndGlyphs">5</tspan><tspan x="33.9" y="1.3" font-size="17px" stroke="none">-</tspan><tspan x="42" y="0" textLength="6" lengthAdjust="spacingAndGlyphs">2</tspan></text>
<text transform="translate(187.8,528.0) rotate(-90)"><tspan x="0" y="0" textLength="24" lengthAdjust="spacingAndGlyphs">2025</tspan><tspan x="21.9" y="1.3" font-size="17px" stroke="none">-</tspan><tspan x="30" y="0" textLength="6" lengthAdjust="spacingAndGlyphs">5</tspan><tspan x="33.9" y="1.3" font-size="17px" stroke="none">-</tspan><tspan x="42" y="0" textLength="12" lengthAdjust="spacingAndGlyphs">16</tspan></text>
<text transform="translate(217.8,522.0) rotate(-90)"><tspan x="0" y="0" textLength="24" lengthAdjust="spacingAndGlyphs">2025</tspan><tspan x="21.9" y="1.3" font-size="17px" stroke="none">-</tspan><tspan x="30" y="0" textLength="6" lengthAdjust="spacingAndGlyphs">6</tspan><tspan x="33.9" y="1.3" font-size="17px" stroke="none">-</tspan><tspan x="42" y="0" textLength="6" lengthAdjust="spacingAndGlyphs">2</tspan></text>
<text transform="translate(248.8,528.0) rotate(-90)"><tspan x="0" y="0" textLength="24" lengthAdjust="spacingAndGlyphs">2025</tspan><tspan x="21.9" y="1.3" font-size="17px" stroke="none">-</tspan><tspan x="30" y="0" textLength="6" lengthAdjust="spacingAndGlyphs">6</tspan><tspan x="33.9" y="1.3" font-size="17px" stroke="none">-</tspan><tspan x="42" y="0" textLength="12" lengthAdjust="spacingAndGlyphs">16</tspan></text>
<text transform="translate(278.8,520.7) rotate(-90)"><tspan x="0" y="0" textLength="24" lengthAdjust="spacingAndGlyphs">2025</tspan><tspan x="21.9" y="1.3" font-size="17px" stroke="none">-</tspan><tspan x="30" y="0" textLength="6" lengthAdjust="spacingAndGlyphs">7</tspan><tspan x="33.9" y="1.3" font-size="17px" stroke="none">-</tspan><tspan x="42" y="0" textLength="6" lengthAdjust="spacingAndGlyphs">1</tspan></text>
<text transform="translate(309.8,528.0) rotate(-90)"><tspan x="0" y="0" textLength="24" lengthAdjust="spacingAndGlyphs">2025</tspan><tspan x="21.9" y="1.3" font-size="17px" stroke="none">-</tspan><tspan x="30" y="0" textLength="6" lengthAdjust="spacingAndGlyphs">7</tspan><tspan x="33.9" y="1.3" font-size="17px" stroke="none">-</tspan><tspan x="42" y="0" textLength="12" lengthAdjust="spacingAndGlyphs">16</tspan></text>
<text transform="translate(340.8,528.0) rotate(-90)"><tspan x="0" y="0" textLength="24" lengthAdjust="spacingAndGlyphs">2025</tspan><tspan x="21.9" y="1.3" font-size="17px" stroke="none">-</tspan><tspan x="30" y="0" textLength="6" lengthAdjust="spacingAndGlyphs">7</tspan><tspan x="33.9" y="1.3" font-size="17px" stroke="none">-</tspan><tspan x="42" y="0" textLength="12" lengthAdjust="spacingAndGlyphs">30</tspan></text>
<text transform="translate(370.8,528.0) rotate(-90)"><tspan x="0" y="0" textLength="24" lengthAdjust="spacingAndGlyphs">2025</tspan><tspan x="21.9" y="1.3" font-size="17px" stroke="none">-</tspan><tspan x="30" y="0" textLength="6" lengthAdjust="spacingAndGlyphs">8</tspan><tspan x="33.9" y="1.3" font-size="17px" stroke="none">-</tspan><tspan x="42" y="0" textLength="12" lengthAdjust="spacingAndGlyphs">13</tspan></text>
<text transform="translate(401.8,528.0) rotate(-90)"><tspan x="0" y="0" textLength="24" lengthAdjust="spacingAndGlyphs">2025</tspan><tspan x="21.9" y="1.3" font-size="17px" stroke="none">-</tspan><tspan x="30" y="0" textLength="6" lengthAdjust="spacingAndGlyphs">8</tspan><tspan x="33.9" y="1.3" font-size="17px" stroke="none">-</tspan><tspan x="42" y="0" textLength="12" lengthAdjust="spacingAndGlyphs">27</tspan></text>
<text transform="translate(431.8,526.7) rotate(-90)"><tspan x="0" y="0" textLength="24" lengthAdjust="spacingAndGlyphs">2025</tspan><tspan x="21.9" y="1.3" font-size="17px" stroke="none">-</tspan><tspan x="30" y="0" textLength="6" lengthAdjust="spacingAndGlyphs">9</tspan><tspan x="33.9" y="1.3" font-size="17px" stroke="none">-</tspan><tspan x="42" y="0" textLength="12" lengthAdjust="spacingAndGlyphs">11</tspan></text>
<text transform="translate(462.8,528.0) rotate(-90)"><tspan x="0" y="0" textLength="24" lengthAdjust="spacingAndGlyphs">2025</tspan><tspan x="21.9" y="1.3" font-size="17px" stroke="none">-</tspan><tspan x="30" y="0" textLength="6" lengthAdjust="spacingAndGlyphs">9</tspan><tspan x="33.9" y="1.3" font-size="17px" stroke="none">-</tspan><tspan x="42" y="0" textLength="12" lengthAdjust="spacingAndGlyphs">25</tspan></text>
<text transform="translate(492.8,528.0) rotate(-90)"><tspan x="0" y="0" textLength="24" lengthAdjust="spacingAndGlyphs">2025</tspan><tspan x="21.9" y="1.3" font-size="17px" stroke="none">-</tspan><tspan x="30" y="0" textLength="12" lengthAdjust="spacingAndGlyphs">10</tspan><tspan x="39.9" y="1.3" font-size="17px" stroke="none">-</tspan><tspan x="48" y="0" textLength="6" lengthAdjust="spacingAndGlyphs">9</tspan></text>
<text transform="translate(523.8,534.0) rotate(-90)"><tspan x="0" y="0" textLength="24" lengthAdjust="spacingAndGlyphs">2025</tspan><tspan x="21.9" y="1.3" font-size="17px" stroke="none">-</tspan><tspan x="30" y="0" textLength="12" lengthAdjust="spacingAndGlyphs">10</tspan><tspan x="39.9" y="1.3" font-size="17px" stroke="none">-</tspan><tspan x="48" y="0" textLength="12" lengthAdjust="spacingAndGlyphs">23</tspan></text>
<text transform="translate(553.8,528.0) rotate(-90)"><tspan x="0" y="0" textLength="24" lengthAdjust="spacingAndGlyphs">2025</tspan><tspan x="21.9" y="1.3" font-size="17px" stroke="none">-</tspan><tspan x="30" y="0" textLength="12" lengthAdjust="spacingAndGlyphs">11</tspan><tspan x="39.9" y="1.3" font-size="17px" stroke="none">-</tspan><tspan x="48" y="0" textLength="6" lengthAdjust="spacingAndGlyphs">6</tspan></text>
<text transform="translate(584.8,534.0) rotate(-90)"><tspan x="0" y="0" textLength="24" lengthAdjust="spacingAndGlyphs">2025</tspan><tspan x="21.9" y="1.3" font-size="17px" stroke="none">-</tspan><tspan x="30" y="0" textLength="12" lengthAdjust="spacingAndGlyphs">11</tspan><tspan x="39.9" y="1.3" font-size="17px" stroke="none">-</tspan><tspan x="48" y="0" textLength="12" lengthAdjust="spacingAndGlyphs">20</tspan></text>
<text transform="translate(615.8,528.0) rotate(-90)"><tspan x="0" y="0" textLength="24" lengthAdjust="spacingAndGlyphs">2025</tspan><tspan x="21.9" y="1.3" font-size="17px" stroke="none">-</tspan><tspan x="30" y="0" textLength="12" lengthAdjust="spacingAndGlyphs">12</tspan><tspan x="39.9" y="1.3" font-size="17px" stroke="none">-</tspan><tspan x="48" y="0" textLength="6" lengthAdjust="spacingAndGlyphs">5</tspan></text>
<text transform="translate(645.8,534.0) rotate(-90)"><tspan x="0" y="0" textLength="24" lengthAdjust="spacingAndGlyphs">2025</tspan><tspan x="21.9" y="1.3" font-size="17px" stroke="none">-</tspan><tspan x="30" y="0" textLength="12" lengthAdjust="spacingAndGlyphs">12</tspan><tspan x="39.9" y="1.3" font-size="17px" stroke="none">-</tspan><tspan x="48" y="0" textLength="12" lengthAdjust="spacingAndGlyphs">19</tspan></text>
<text transform="translate(676.8,522.0) rotate(-90)"><tspan x="0" y="0" textLength="24" lengthAdjust="spacingAndGlyphs">2026</tspan><tspan x="21.9" y="1.3" font-size="17px" stroke="none">-</tspan><tspan x="30" y="0" textLength="6" lengthAdjust="spacingAndGlyphs">1</tspan><tspan x="33.9" y="1.3" font-size="17px" stroke="none">-</tspan><tspan x="42" y="0" textLength="6" lengthAdjust="spacingAndGlyphs">6</tspan></text>
<text transform="translate(706.8,526.7) rotate(-90)"><tspan x="0" y="0" textLength="24" lengthAdjust="spacingAndGlyphs">2026</tspan><tspan x="21.9" y="1.3" font-size="17px" stroke="none">-</tspan><tspan x="30" y="0" textLength="6" lengthAdjust="spacingAndGlyphs">1</tspan><tspan x="33.9" y="1.3" font-size="17px" stroke="none">-</tspan><tspan x="42" y="0" textLength="12" lengthAdjust="spacingAndGlyphs">21</tspan></text>
<text transform="translate(737.8,522.0) rotate(-90)"><tspan x="0" y="0" textLength="24" lengthAdjust="spacingAndGlyphs">2026</tspan><tspan x="21.9" y="1.3" font-size="17px" stroke="none">-</tspan><tspan x="30" y="0" textLength="6" lengthAdjust="spacingAndGlyphs">2</tspan><tspan x="33.9" y="1.3" font-size="17px" stroke="none">-</tspan><tspan x="42" y="0" textLength="6" lengthAdjust="spacingAndGlyphs">4</tspan></text>
<text transform="translate(767.8,528.0) rotate(-90)"><tspan x="0" y="0" textLength="24" lengthAdjust="spacingAndGlyphs">2026</tspan><tspan x="21.9" y="1.3" font-size="17px" stroke="none">-</tspan><tspan x="30" y="0" textLength="6" lengthAdjust="spacingAndGlyphs">2</tspan><tspan x="33.9" y="1.3" font-size="17px" stroke="none">-</tspan><tspan x="42" y="0" textLength="12" lengthAdjust="spacingAndGlyphs">19</tspan></text>
<text transform="translate(798.8,522.0) rotate(-90)"><tspan x="0" y="0" textLength="24" lengthAdjust="spacingAndGlyphs">2026</tspan><tspan x="21.9" y="1.3" font-size="17px" stroke="none">-</tspan><tspan x="30" y="0" textLength="6" lengthAdjust="spacingAndGlyphs">3</tspan><tspan x="33.9" y="1.3" font-size="17px" stroke="none">-</tspan><tspan x="42" y="0" textLength="6" lengthAdjust="spacingAndGlyphs">5</tspan></text>
<text transform="translate(828.8,528.0) rotate(-90)"><tspan x="0" y="0" textLength="24" lengthAdjust="spacingAndGlyphs">2026</tspan><tspan x="21.9" y="1.3" font-size="17px" stroke="none">-</tspan><tspan x="30" y="0" textLength="6" lengthAdjust="spacingAndGlyphs">3</tspan><tspan x="33.9" y="1.3" font-size="17px" stroke="none">-</tspan><tspan x="42" y="0" textLength="12" lengthAdjust="spacingAndGlyphs">19</tspan></text>
</g>
<text class="jp" font-size="12px" fill="#000" y="51.1" style="white-space:pre"><tspan x="30.10 42.10" y="51.1">単位</tspan><tspan x="54.10" y="50.5" font-size="11.5px" textLength="6.00" lengthAdjust="spacingAndGlyphs">:</tspan><tspan x="60.10 72.10" y="51.1">ドル</tspan></text>
<text class="jp" font-size="12px" fill="#000" y="51.1" style="white-space:pre"><tspan x="810.10 822.10" y="51.1">単位</tspan><tspan x="834.10" y="50.5" font-size="11.5px" textLength="6.00" lengthAdjust="spacingAndGlyphs">:</tspan><tspan x="840.10" y="51.1">円</tspan></text>
<rect x="233.5" y="22.5" width="435" height="41" fill="#f5f5f5" stroke="#808080" stroke-width="1" shape-rendering="crispEdges"/>
<rect x="241.5" y="28.5" width="10" height="10" fill="#000" stroke="#404040" stroke-width="1" shape-rendering="crispEdges"/>
<path d="M238 52.5H255" stroke="#ff0000" stroke-width="2" shape-rendering="crispEdges"/>
<text class="jp" font-size="13.33px" fill="#000" y="37.8" style="white-space:pre"><tspan x="264.10 277.10 290.10 303.10 316.10 329.10 342.10 355.10" y="37.8">ネクストデケード</tspan><tspan x="368.10" y="37.2" font-size="12.5px" textLength="175.00" lengthAdjust="spacingAndGlyphs"> (NextDecade Corporation)</tspan><tspan x="543.10 556.10 569.10 582.10 595.10 608.10 621.10 634.10 647.10" y="37.8">のドルベースの株価</tspan></text>
<text class="jp" font-size="13.33px" fill="#000" y="57.2" style="white-space:pre"><tspan x="264.10 277.10 290.10 303.10 316.10 329.10 342.10 355.10" y="57.2">ネクストデケード</tspan><tspan x="368.10" y="56.6" font-size="12.5px" textLength="175.00" lengthAdjust="spacingAndGlyphs"> (NextDecade Corporation)</tspan><tspan x="543.10 556.10 569.10 582.10 595.10 608.10 621.10 634.10" y="57.2">の円ベースの株価</tspan></text>
</svg>
</body></html>
